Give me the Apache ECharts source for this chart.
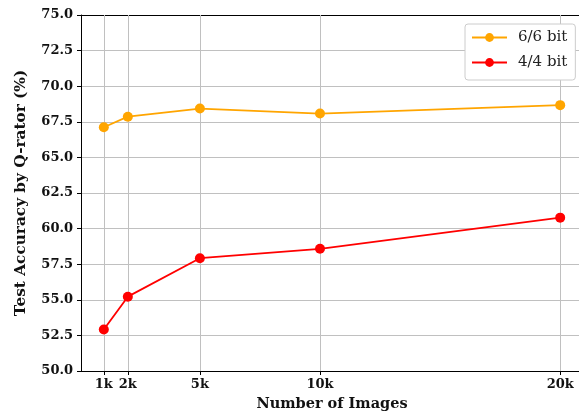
<!DOCTYPE html>
<html><head><meta charset="utf-8">
<script src="https://cdn.jsdelivr.net/npm/echarts@6/dist/echarts.min.js"></script>
<style>html,body{margin:0;padding:0;background:#fff;overflow:hidden}#c{width:579px;height:417px}</style>
</head><body><div id="c"></div>
<script>
const imageCounts = [1, 2, 5, 10, 20];
const tickLabels = ['1k', '2k', '5k', '10k', '20k'];
const acc66 = [67.12, 67.86, 68.43, 68.08, 68.67];
const acc44 = [52.92, 55.22, 57.92, 58.58, 60.77];
const seriesNames = ['6/6 bit', '4/4 bit'];

const chart = echarts.init(document.getElementById('c'), null, {renderer: 'canvas'});
const serif = 'DejaVu Serif';
const toPairs = (xs, ys) => xs.map((x, i) => [x, ys[i]]);
const labelMap = {};
imageCounts.forEach((v, i) => labelMap[v] = tickLabels[i]);

chart.setOption({
  animation: false,
  backgroundColor: '#fff',
  grid: {left: 81, top: 15, width: 502, height: 356, outerBoundsMode: 'none', containLabel: false, show: false},
  legend: {
    left: 465, top: 24, orient: 'vertical',
    backgroundColor: '#fff', borderColor: '#cccccc', borderWidth: 1, borderRadius: 3,
    padding: [6, 8, 10, 6], itemWidth: 35, itemHeight: 11, itemGap: 10,
    textStyle: {fontFamily: serif, fontSize: 15, color: '#222', padding: [0, 0, 0, 6]},
    data: seriesNames
  },
  xAxis: [{
    type: 'value', min: 0.05, max: 20.95,
    name: 'Number of Images', nameLocation: 'middle', nameGap: 26,
    nameTextStyle: {fontFamily: serif, fontWeight: 'bold', fontSize: 14.5, color: '#111'},
    axisLine: {show: true, lineStyle: {color: '#000', width: 1}},
    axisTick: {show: true, length: 4, lineStyle: {color: '#000'}, customValues: imageCounts},
    axisLabel: {customValues: imageCounts, margin: 7, fontFamily: serif, fontWeight: 'bold', fontSize: 13, color: '#111',
      formatter: v => labelMap[v] || ''},
    splitLine: {show: false}
  }, {
    type: 'value', position: 'top', min: 0.05, max: 20.95,
    axisLine: {show: true, lineStyle: {color: '#000', width: 1}},
    axisTick: {show: false}, axisLabel: {show: false}, splitLine: {show: false}
  }],
  yAxis: {
    type: 'value', min: 50, max: 75, interval: 2.5,
    name: 'Test Accuracy by Q-rator (%)', nameLocation: 'middle', nameGap: 52, nameRotate: 90,
    nameTextStyle: {fontFamily: serif, fontWeight: 'bold', fontSize: 15.3, color: '#111'},
    axisLine: {show: true, lineStyle: {color: '#000', width: 1}},
    axisTick: {show: true, length: 4, lineStyle: {color: '#000'}},
    axisLabel: {margin: 8, fontFamily: serif, fontWeight: 'bold', fontSize: 13, color: '#111',
      formatter: v => v.toFixed(1)},
    splitLine: {show: true, lineStyle: {color: '#c0c0c0', width: 1}}
  },
  series: [
    {name: seriesNames[0], type: 'line', data: toPairs(imageCounts, acc66), color: '#FFA500',
      symbol: 'circle', symbolSize: 10, lineStyle: {width: 1.8}, z: 3,
      markLine: {silent: true, symbol: 'none', z: 1, label: {show: false},
        lineStyle: {color: '#c0c0c0', width: 1, type: 'solid'},
        data: imageCounts.map(v => ({xAxis: v}))}},
    {name: seriesNames[1], type: 'line', data: toPairs(imageCounts, acc44), color: '#FF0000',
      symbol: 'circle', symbolSize: 10, lineStyle: {width: 1.8}, z: 3}
  ]
});
</script></body></html>
